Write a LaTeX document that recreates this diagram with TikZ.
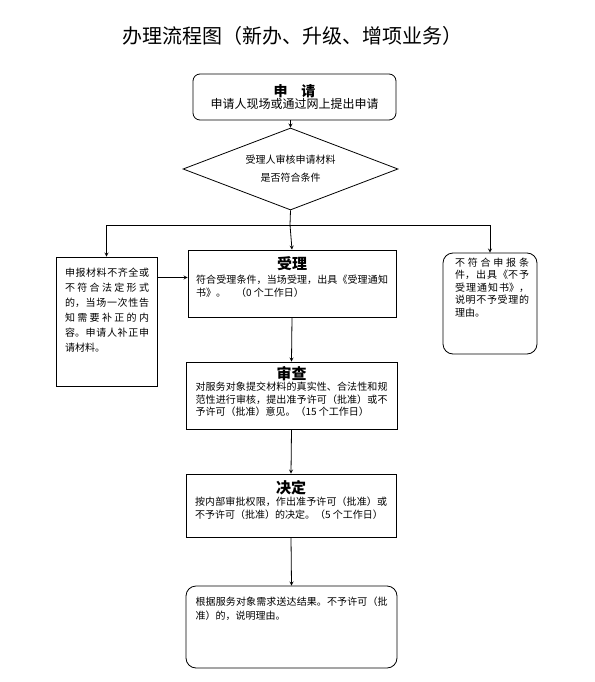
\documentclass[tikz,border=0pt]{standalone}
\usepackage{fontspec}
\setmainfont{Noto Sans CJK SC}
\XeTeXlinebreaklocale "zh"
\XeTeXlinebreakskip=0pt plus 1pt
\usetikzlibrary{shapes.geometric,positioning}

\tikzset{
	box/.style={draw, inner sep=0pt},
	body/.style={font=\fontsize{10}{13.5}\selectfont, inner sep=0pt, align=justify},
	head/.style={font=\fontsize{15}{18}\selectfont\bfseries, inner sep=0pt},
}

\begin{document}
\begin{tikzpicture}[x=1pt,y=-1pt,>=stealth,line width=0.8pt]
	\useasboundingbox (0,0) rectangle (594,682);
	\node[font=\fontsize{20}{24}\selectfont] (titel) at (292,36) {办理流程图（新办、升级、增项业务）};

	\node[box, rounded corners=7pt, minimum width=203pt, minimum height=46pt, align=center] (shenqing) at (294.5,97) {{\fontsize{14}{18}\selectfont\bfseries 申\quad 请}\\{\fontsize{12}{14}\selectfont 申请人现场或通过网上提出申请}};
	\node[box, diamond, aspect=2.6, minimum width=215pt, minimum height=82pt, align=center, font=\fontsize{10}{18}\selectfont] (panduan) at (290.5,169) {受理人审核申请材料\\是否符合条件};
	\coordinate (gabel) at (290,225);

	\node[box, minimum width=101pt, minimum height=129pt] (buqi) at (106.5,321.5) {};
	\node[body, font=\fontsize{10}{15}\selectfont, text width=84pt, below right=11pt and 9pt of buqi.north west] (buqi-text) {申报材料不齐全或不符合法定形式的，当场一次性告知需要补正的内容。申请人补正申请材料。};

	\node[box, minimum width=208pt, minimum height=67pt] (shouli) at (292,283.5) {};
	\node[head, below=7pt of shouli.north] (shouli-kopf) {受理};
	\node[body, text width=192pt, below=3pt of shouli-kopf] (shouli-text) {符合受理条件，当场受理，出具《受理通知书》。\quad（0 个工作日）};

	\node[box, rounded corners=10pt, minimum width=94pt, minimum height=101pt] (buhe) at (490,303.5) {};
	\node[body, font=\fontsize{10}{12.5}\selectfont, text width=74pt, below right=5pt and 12pt of buhe.north west] (buhe-text) {不符合申报条件，出具《不予受理通知书》，说明不予受理的理由。};

	\node[box, minimum width=211pt, minimum height=67pt] (shencha) at (291.5,395.5) {};
	\node[head, below=4pt of shencha.north] (shencha-kopf) {审查};
	\node[body, font=\fontsize{10}{12.5}\selectfont, text width=192pt, below=1pt of shencha-kopf] (shencha-text) {对服务对象提交材料的真实性、合法性和规范性进行审核，提出准予许可（批准）或不予许可（批准）意见。（15 个工作日）};

	\node[box, minimum width=210pt, minimum height=63pt] (jueding) at (291,505.5) {};
	\node[head, below=6pt of jueding.north] (jueding-kopf) {决定};
	\node[body, font=\fontsize{10}{13}\selectfont, text width=192pt, below=2pt of jueding-kopf] (jueding-text) {按内部审批权限，作出准予许可（批准）或不予许可（批准）的决定。（5 个工作日）};

	\node[box, rounded corners=10pt, minimum width=211pt, minimum height=82pt] (songda) at (291.5,627) {};
	\node[body, font=\fontsize{10}{14}\selectfont, text width=192pt, below=11pt of songda.north] (songda-text) {根据服务对象需求送达结果。不予许可（批准）的，说明理由。};

	\draw [->] (shenqing.south -| panduan.north) -- (panduan.north);
	\draw (panduan.south) -- (gabel);
	\draw [->] (gabel) -| (buqi.north);
	\draw [->] (gabel) -- (shouli.north);
	\draw [->] (gabel) -| (buhe.north);

	\coordinate (pfeil) at ([yshift=6pt]shouli.west);
	\draw [->] (pfeil -| buqi.east) -- (pfeil);

	\draw [->] (shouli.south) -- (shencha.north);
	\draw [->] (shencha.south) -- (jueding.north);
	\draw [->] (jueding.south) -- (songda.north);
\end{tikzpicture}
\end{document}
